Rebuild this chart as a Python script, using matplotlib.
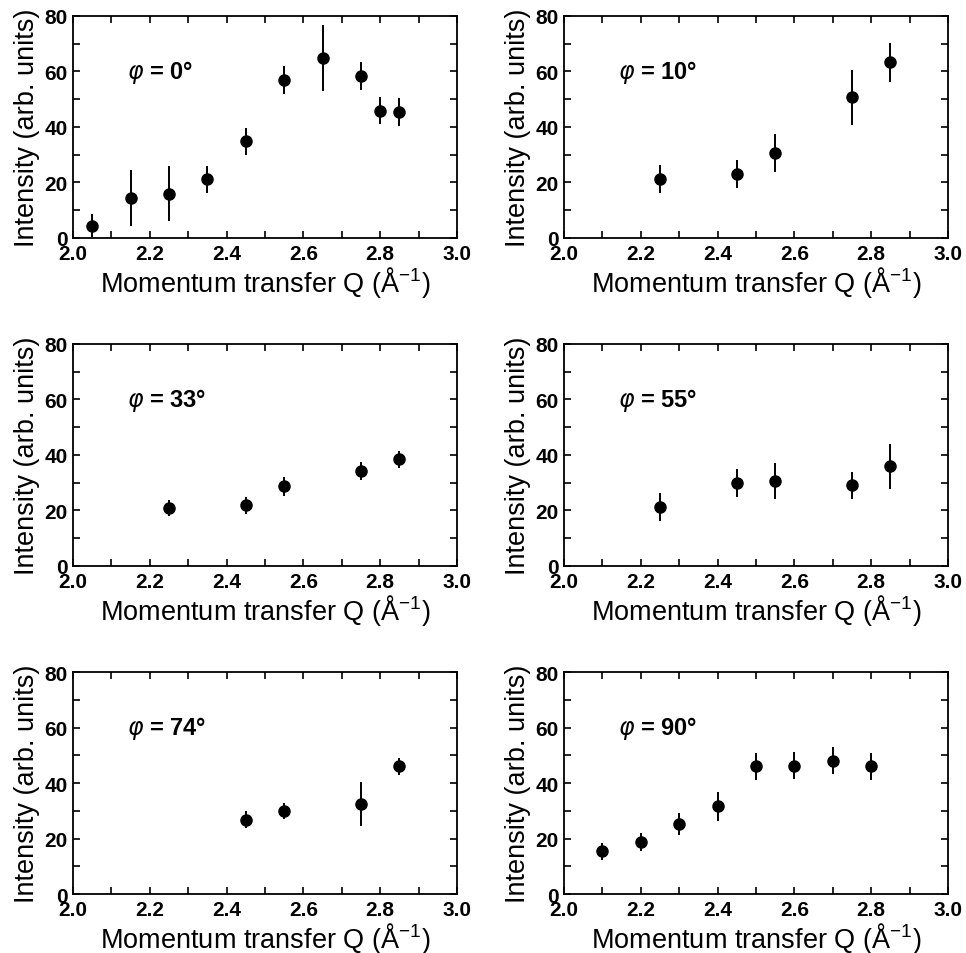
import numpy as np
import matplotlib.pyplot as plt
from matplotlib.ticker import MultipleLocator

plt.rcParams['font.family'] = ['Liberation Sans', 'DejaVu Sans']
plt.rcParams['mathtext.fontset'] = 'dejavusans'
plt.rcParams['mathtext.default'] = 'regular'

# angles phi and the measured intensities (Q, I, error)
angles = [0, 10, 33, 55, 74, 90]

q_0 = [2.05, 2.15, 2.25, 2.35, 2.45, 2.55, 2.65, 2.75, 2.80, 2.85]
i_0 = [4.4, 14.4, 16.0, 21.1, 34.8, 56.9, 64.8, 58.5, 45.9, 45.3]
e_0 = [4.2, 10.0, 10.0, 5.0, 5.0, 5.0, 12.0, 5.0, 5.0, 5.0]

q_10 = [2.25, 2.45, 2.55, 2.75, 2.85]
i_10 = [21.2, 23.1, 30.6, 50.7, 63.3]
e_10 = [5.0, 5.0, 7.0, 10.0, 7.0]

q_33 = [2.25, 2.45, 2.55, 2.75, 2.85]
i_33 = [20.9, 21.8, 28.7, 34.3, 38.4]
e_33 = [3.0, 3.0, 3.4, 3.3, 3.0]

q_55 = [2.25, 2.45, 2.55, 2.75, 2.85]
i_55 = [21.2, 29.8, 30.7, 29.0, 35.9]
e_55 = [5.0, 5.0, 6.5, 5.0, 8.0]

q_74 = [2.45, 2.55, 2.75, 2.85]
i_74 = [26.8, 29.9, 32.5, 46.0]
e_74 = [3.0, 3.0, 8.0, 3.0]

q_90 = [2.10, 2.20, 2.30, 2.40, 2.50, 2.60, 2.70, 2.80]
i_90 = [15.4, 18.8, 25.1, 31.7, 46.0, 46.3, 48.1, 46.0]
e_90 = [3.0, 3.2, 4.0, 5.2, 5.0, 5.0, 5.0, 5.0]

series = [(q_0, i_0, e_0), (q_10, i_10, e_10), (q_33, i_33, e_33),
          (q_55, i_55, e_55), (q_74, i_74, e_74), (q_90, i_90, e_90)]

fig = plt.figure(figsize=(9.66, 9.54), dpi=100)

lefts = [0.0756, 0.5839]
bottoms = [0.7495, 0.4057, 0.0618]
w, h = 0.3975, 0.2327

for k, (phi, (q, inten, err)) in enumerate(zip(angles, series)):
    ax = fig.add_axes([lefts[k % 2], bottoms[k // 2], w, h])
    ax.errorbar(q, inten, yerr=err, fmt='o', color='black', ms=8,
                elinewidth=1.4, capsize=0)
    ax.set_xlim(2.0, 3.0)
    ax.set_ylim(0, 80)
    ax.xaxis.set_minor_locator(MultipleLocator(0.1))
    ax.yaxis.set_major_locator(MultipleLocator(20))
    ax.yaxis.set_minor_locator(MultipleLocator(10))
    xt = np.arange(2.0, 3.01, 0.2)
    ax.set_xticks(xt)
    ax.set_xticklabels(['%.1f' % v for v in xt])
    ax.tick_params(which='both', direction='in', top=True, right=True,
                   width=1.2, length=5, labelsize=15, pad=4)
    for lab in ax.get_xticklabels() + ax.get_yticklabels():
        lab.set_fontweight('bold')
    for s in ax.spines.values():
        s.set_linewidth(1.3)
    ax.set_xlabel(r'Momentum transfer Q (Å$^{-1}$)', fontsize=19.5, labelpad=1)
    ax.set_ylabel('Intensity (arb. units)', fontsize=19.5, labelpad=3)
    ax.text(0.14, 0.75, r'$\mathit{\varphi}$' + ' = %d°' % phi,
            transform=ax.transAxes, fontsize=17, fontweight='bold',
            va='center', ha='left')

fig.savefig('out.png', dpi=100)
